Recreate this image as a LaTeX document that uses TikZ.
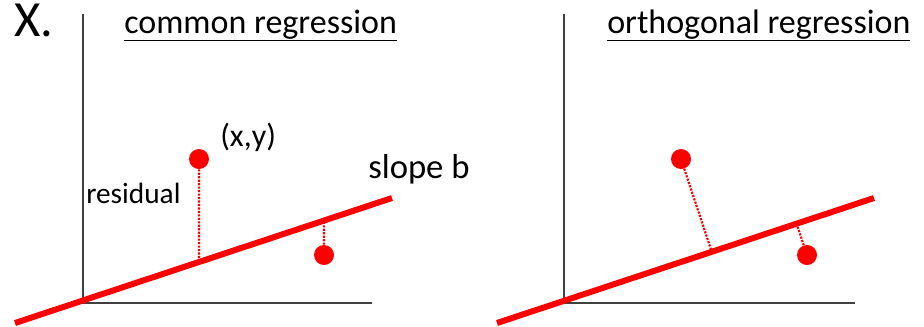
\documentclass[tikz,border=0pt]{standalone}
\usepackage{fontspec}
\setmainfont{Carlito}
\usetikzlibrary{calc}
\tikzset{
  axis/.style={black!75,line width=1.1pt},
  fitline/.style={red,line width=4.5pt},
  resid/.style={red,densely dotted,line width=1.6pt},
  datum/.style={circle,fill=red,inner sep=0pt,minimum size=15pt},
  lbl/.style={anchor=base west,inner sep=0pt},
}
\begin{document}
\begin{tikzpicture}[x=0.75pt,y=-0.75pt]
  \useasboundingbox (0,0) rectangle (924,326);
  \node[lbl,font=\fontsize{38}{42}\selectfont] (mark) at (14,36) {X.};
  % common regression
  \coordinate (ytop1) at (83,14); \coordinate (o1) at (83,303); \coordinate (xend1) at (372,303);
  \draw[axis] (ytop1) -- (o1) -- (xend1);
  \node[lbl,font=\fontsize{25.5}{30}\selectfont] (title1) at (124,33) {\underline{common regression}};
  \coordinate (a1) at (15,323); \coordinate (b1) at (392,198);
  \node[datum] (p1) at (199,159) {}; \node[datum] (q1) at (324,255) {};
  \coordinate (f1) at ($(a1)!0.488!(b1)$); \coordinate (g1) at ($(a1)!0.8196!(b1)$);
  \draw[resid] (p1) -- (f1); \draw[resid] (q1) -- (g1);
  \draw[fitline] (a1) -- (b1);
  \node[lbl,font=\fontsize{24}{28}\selectfont] (xy) at (220,146) {(x,y)};
  \node[lbl,font=\fontsize{26}{30}\selectfont] (slope) at (368,178) {slope b};
  \node[lbl,font=\fontsize{22}{26}\selectfont] (res) at (86,203) {residual};
  % orthogonal regression
  \coordinate (ytop2) at (564,14); \coordinate (o2) at (564,303); \coordinate (xend2) at (855,303);
  \draw[axis] (ytop2) -- (o2) -- (xend2);
  \node[lbl,font=\fontsize{25.5}{30}\selectfont] (title2) at (607,33) {\underline{orthogonal regression}};
  \coordinate (a2) at (497,323); \coordinate (b2) at (874,198);
  \node[datum] (p2) at (681,159) {}; \node[datum] (q2) at (807,255) {};
  \draw[resid] (p2) -- ($(a2)!(p2)!(b2)$); \draw[resid] (q2) -- ($(a2)!(q2)!(b2)$);
  \draw[fitline] (a2) -- (b2);
\end{tikzpicture}
\end{document}
